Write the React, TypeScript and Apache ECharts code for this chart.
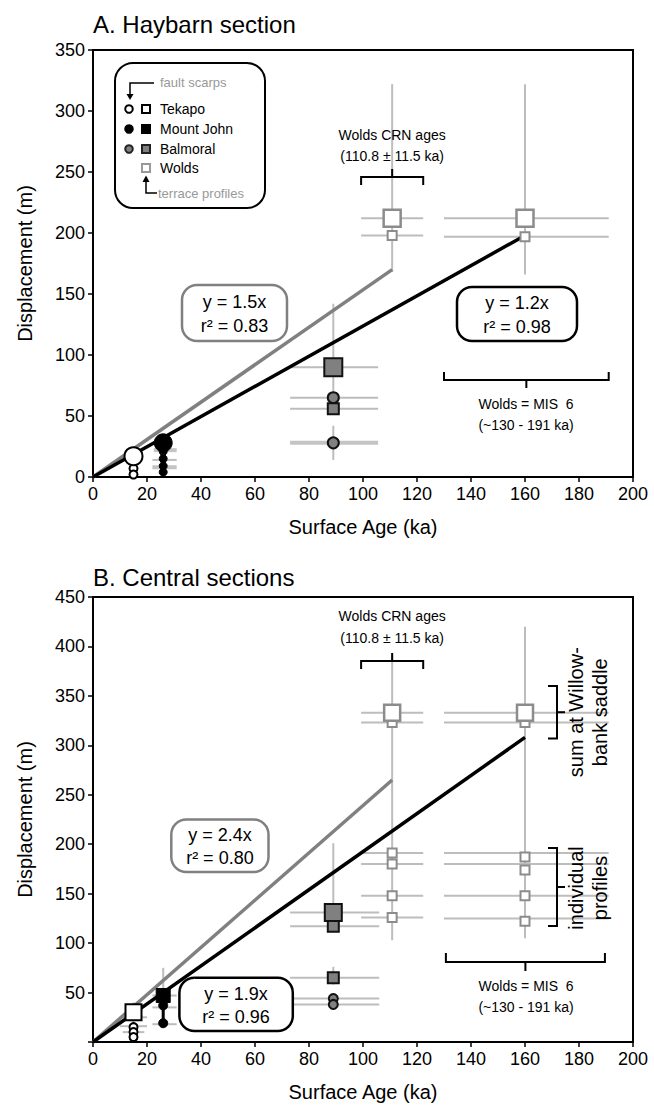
import React, { useEffect, useRef } from "react";
import * as echarts from "echarts";

const FONT = "Arial, 'Liberation Sans', Helvetica, sans-serif";

// ---------- Panel A data (Haybarn) ----------
const aTekapoBig = [[15, 17]];
const aTekapoSmall = [[15, 7], [15, 2]];
const aMtJohnBig = [[26, 28]];
const aMtJohnSmall = [[26, 21], [26, 15], [26, 9], [26, 4]];
const aBalmoralBig = [[89, 90]];
const aBalmoralSmall = [[89, 56]];
const aBalmoralCircles = [[89, 65], [89, 28]];
const aWoldsBig = [[110.8, 212], [160, 212]];
const aWoldsSmall = [[110.8, 198], [160, 197]];
const aFitGrey = [[0, 0], [110.8, 170]];
const aFitBlack = [[0, 0], [160, 198]];
const aBarsThin = [
  [110.8, 168, 110.8, 322], [160, 166, 160, 322],
  [99.3, 212, 122.3, 212], [99.3, 198, 122.3, 198],
  [130, 212, 191, 212], [130, 197, 191, 197],
  [89, 60, 89, 142], [89, 14, 89, 42],
  [73, 90, 105.6, 90], [73, 65, 105.6, 65], [73, 56, 105.6, 56],
  [22, 14, 31, 14],
];
const aBarsThick = [[73, 28, 105.6, 28], [22.5, 22, 31, 22], [22, 8, 31, 8]];
const aBarsBlack = [[26, 2, 26, 28]];

// ---------- Panel B data (Central) ----------
const bTekapoBig = [[15, 30]];
const bTekapoSmall = [[15, 15], [15, 10], [15, 5]];
const bMtJohnBig = [[26, 47]];
const bMtJohnSmall = [[26, 37], [26, 19]];
const bBalmoralBig = [[89, 131]];
const bBalmoralSmall = [[89, 117], [89, 65]];
const bBalmoralCircles = [[89, 44], [89, 38]];
const bWoldsBig = [[110.8, 333], [160, 333]];
const bWoldsSmall = [
  [110.8, 323], [160, 323],
  [110.8, 191], [110.8, 180], [110.8, 148], [110.8, 126],
  [160, 187], [160, 174], [160, 148], [160, 122],
];
const bFitGrey = [[0, 0], [110.8, 265]];
const bFitBlack = [[0, 0], [160, 308]];
const bBarsThin = [
  [110.8, 103, 110.8, 392], [160, 105, 160, 420],
  [99.3, 333, 122.3, 333], [99.3, 323, 122.3, 323],
  [99.3, 191, 122.3, 191], [99.3, 180, 122.3, 180], [99.3, 148, 122.3, 148], [99.3, 126, 122.3, 126],
  [130, 333, 191, 333], [130, 323, 191, 323],
  [130, 191, 191, 191], [130, 180, 191, 180], [130, 148, 191, 148], [130, 125, 191, 125],
  [89, 117, 89, 201], [89, 58, 89, 76],
  [73, 131, 106, 131], [73, 117, 106, 117], [73, 65, 106, 65], [73, 44, 106, 44], [73, 38, 106, 38],
  [26, 15, 26, 75], [22, 47, 31, 47], [22, 35, 31, 35], [22, 18, 31, 18],
  [15, 0, 15, 40], [11, 25, 20, 25], [10, 16, 20, 16], [11, 10, 19, 10],
];
const bBarsBlack = [[26, 19, 26, 47]];

const xTicks = { min: 0, max: 200, interval: 20 };
const yTicksA = { min: 0, max: 350, interval: 50 };
const yTicksB = { min: 0, max: 450, interval: 50 };

// layout
const GX = 93, GW = 540;
const GA_TOP = 50, GA_H = 427;
const GB_TOP = 597, GB_H = 445;
const ax = (x: number) => GX + (x / 200) * GW;
const ayA = (y: number) => GA_TOP + GA_H - (y / 350) * GA_H;
const ayB = (y: number) => GB_TOP + GB_H - (y / 450) * GB_H;

function bars(data: number[][], idx: number, color: string, width: number, z: number) {
  return {
    type: "custom",
    xAxisIndex: idx,
    yAxisIndex: idx,
    z,
    silent: true,
    encode: { x: [0, 2], y: [1, 3] },
    data,
    renderItem: (params: any, api: any) => {
      const p1 = api.coord([api.value(0), api.value(1)]);
      const p2 = api.coord([api.value(2), api.value(3)]);
      return {
        type: "line",
        shape: { x1: p1[0], y1: p1[1], x2: p2[0], y2: p2[1] },
        style: { stroke: color, lineWidth: width },
      };
    },
  };
}

function pts(data: number[][], idx: number, symbol: string, size: number, fill: string, stroke: string, bw: number, z: number) {
  return {
    type: "scatter",
    xAxisIndex: idx,
    yAxisIndex: idx,
    z,
    symbol,
    symbolSize: size,
    data,
    itemStyle: { color: fill, borderColor: stroke, borderWidth: bw, opacity: 1 },
  };
}

function fit(data: number[][], idx: number, color: string, width: number) {
  return {
    type: "line",
    xAxisIndex: idx,
    yAxisIndex: idx,
    z: 3,
    data,
    symbol: "none",
    lineStyle: { color, width },
  };
}

function xAxisCfg(idx: number) {
  return {
    type: "value",
    gridIndex: idx,
    ...xTicks,
    axisLine: { show: true, lineStyle: { color: "#000", width: 2 } },
    axisTick: { show: true, length: 5, lineStyle: { color: "#000", width: 1.5 } },
    axisLabel: { fontSize: 18, color: "#000", fontFamily: FONT, margin: 8 },
    splitLine: { show: false },
    name: "Surface Age (ka)",
    nameLocation: "middle",
    nameGap: 40,
    nameTextStyle: { fontSize: 20, color: "#000", fontFamily: FONT },
  };
}

function yAxisCfg(idx: number, ticks: any, hideZero: boolean) {
  return {
    type: "value",
    gridIndex: idx,
    ...ticks,
    axisLine: { show: true, lineStyle: { color: "#000", width: 2 } },
    axisTick: { show: true, length: 5, lineStyle: { color: "#000", width: 1.5 } },
    axisLabel: {
      fontSize: 18, color: "#000", fontFamily: FONT, margin: 8,
      formatter: (v: number) => (hideZero && v === 0 ? "" : String(v)),
    },
    splitLine: { show: false },
    name: "Displacement (m)",
    nameLocation: "middle",
    nameGap: 58,
    nameTextStyle: { fontSize: 20, color: "#000", fontFamily: FONT },
  };
}

function txt(x: number, y: number, text: string, size: number, opts: any = {}) {
  return {
    type: "text",
    x, y,
    rotation: opts.rotation || 0,
    style: {
      text,
      fill: opts.fill || "#000",
      font: `${size}px ${FONT}`,
      textAlign: opts.align || "center",
      textVerticalAlign: "middle",
    },
    z: 100,
  };
}

function bracketDown(x1: number, x2: number, y: number, leg: number, tickUp: boolean) {
  const cx = (x1 + x2) / 2;
  return [
    { type: "polyline", shape: { points: [[x1, y + (tickUp ? leg : -leg)], [x1, y], [x2, y], [x2, y + (tickUp ? leg : -leg)]] }, style: { stroke: "#000", lineWidth: 2, fill: null }, z: 100 },
    { type: "line", shape: { x1: cx, y1: y, x2: cx, y2: y + (tickUp ? -leg : leg) }, style: { stroke: "#000", lineWidth: 2 }, z: 100 },
  ];
}

function eqBox(x: number, y: number, w: number, h: number, stroke: string, l1: string, l2: string) {
  return [
    { type: "rect", shape: { x, y, width: w, height: h, r: 15 }, style: { fill: "#fff", stroke, lineWidth: 2.5 }, z: 90 },
    txt(x + w / 2, y + h * 0.3, l1, 18),
    txt(x + w / 2, y + h * 0.74, l2, 18),
  ];
}

function legend() {
  const els: any[] = [];
  els.push({ type: "rect", shape: { x: 115, y: 63, width: 150, height: 145, r: 18 }, style: { fill: "#fff", stroke: "#000", lineWidth: 2 }, z: 90 });
  els.push(txt(160, 82, "fault scarps", 13, { align: "left", fill: "#999" }));
  els.push({ type: "polyline", shape: { points: [[154, 83], [130, 83], [130, 95]] }, style: { stroke: "#000", lineWidth: 1.5, fill: null }, z: 100 });
  els.push({ type: "polygon", shape: { points: [[126.5, 94], [133.5, 94], [130, 100]] }, style: { fill: "#000" }, z: 100 });
  const rows = [
    { y: 109, name: "Tekapo", cf: "#fff", cs: "#000", sf: "#fff", ss: "#000" },
    { y: 129, name: "Mount John", cf: "#000", cs: "#000", sf: "#000", ss: "#000" },
    { y: 149, name: "Balmoral", cf: "#808080", cs: "#222", sf: "#808080", ss: "#222" },
    { y: 168, name: "Wolds", cf: null, cs: null, sf: "#fff", ss: "#999" },
  ];
  rows.forEach((r) => {
    if (r.cf) els.push({ type: "circle", shape: { cx: 129, cy: r.y, r: 3.8 }, style: { fill: r.cf, stroke: r.cs, lineWidth: 2 }, z: 100 });
    els.push({ type: "rect", shape: { x: 142, y: r.y - 4, width: 8, height: 8 }, style: { fill: r.sf, stroke: r.ss, lineWidth: 2 }, z: 100 });
    els.push(txt(160, r.y, r.name, 14, { align: "left" }));
  });
  els.push({ type: "polyline", shape: { points: [[157, 193], [146, 193], [146, 181]] }, style: { stroke: "#000", lineWidth: 1.5, fill: null }, z: 100 });
  els.push({ type: "polygon", shape: { points: [[142.5, 182], [149.5, 182], [146, 175.5]] }, style: { fill: "#000" }, z: 100 });
  els.push(txt(158, 193, "terrace profiles", 13, { align: "left", fill: "#999" }));
  return els;
}

export default function App() {
  const ref = useRef<HTMLDivElement>(null);
  useEffect(() => {
    document.body.style.margin = "0";
    const chart = echarts.init(ref.current!, null, { renderer: "svg" });
    const graphics: any[] = [
      txt(GX, 24, "A. Haybarn section", 24, { align: "left" }),
      txt(GX, 577, "B. Central sections", 24, { align: "left" }),
      ...legend(),
      // Panel A annotations
      txt(ax(110.8), 135, "Wolds CRN ages", 14),
      txt(ax(110.8), 156, "(110.8 \u00b1 11.5 ka)", 14),
      ...bracketDown(ax(99.3), ax(122.3), 177, 8, true),
      ...eqBox(182, 285, 105, 56, "#808080", "y = 1.5x", "r\u00b2 = 0.83"),
      ...eqBox(457, 287, 120, 54, "#000", "y = 1.2x", "r\u00b2 = 0.98"),
      ...bracketDown(ax(130), ax(191), 380, 8, false),
      txt(ax(160.4), 404, "Wolds = MIS  6", 14),
      txt(ax(160.4), 425, "(~130 - 191 ka)", 14),
      // Panel B annotations
      txt(ax(110.8), 616, "Wolds CRN ages", 14),
      txt(ax(110.8), 638, "(110.8 \u00b1 11.5 ka)", 14),
      ...bracketDown(ax(99.3), ax(122.3), 661, 8, true),
      ...eqBox(ax(29), ayB(225), ax(65) - ax(29), ayB(172) - ayB(225), "#808080", "y = 2.4x", "r\u00b2 = 0.80"),
      ...eqBox(ax(32), ayB(65), ax(74) - ax(32), ayB(11) - ayB(65), "#000", "y = 1.9x", "r\u00b2 = 0.96"),
      ...bracketDown(ax(130.7), ax(189.6), 962, 9, false),
      txt(ax(160.4), 986, "Wolds = MIS  6", 14),
      txt(ax(160.4), 1007, "(~130 - 191 ka)", 14),
      // right-hand brackets in B
      { type: "polyline", shape: { points: [[548, ayB(360)], [557, ayB(360)], [557, ayB(307)], [548, ayB(307)]] }, style: { stroke: "#000", lineWidth: 2, fill: null }, z: 100 },
      { type: "line", shape: { x1: 557, y1: ayB(333.5), x2: 565, y2: ayB(333.5) }, style: { stroke: "#000", lineWidth: 2 }, z: 100 },
      { type: "polyline", shape: { points: [[548, 848], [557, 848], [557, 926], [548, 926]] }, style: { stroke: "#000", lineWidth: 2, fill: null }, z: 100 },
      { type: "line", shape: { x1: 557, y1: 887, x2: 565, y2: 887 }, style: { stroke: "#000", lineWidth: 2 }, z: 100 },
      txt(576, ayB(333.5), "sum at Willow-", 20, { rotation: Math.PI / 2 }),
      txt(600, ayB(333.5), "bank saddle", 20, { rotation: Math.PI / 2 }),
      txt(576, 888, "individual", 20, { rotation: Math.PI / 2 }),
      txt(600, 888, "profiles", 20, { rotation: Math.PI / 2 }),
    ];

    chart.setOption({
      animation: false,
      grid: [
        { left: GX, top: GA_TOP, width: GW, height: GA_H, show: true, borderColor: "#000", borderWidth: 2, backgroundColor: "transparent" },
        { left: GX, top: GB_TOP, width: GW, height: GB_H, show: true, borderColor: "#000", borderWidth: 2, backgroundColor: "transparent" },
      ],
      xAxis: [xAxisCfg(0), xAxisCfg(1)],
      yAxis: [yAxisCfg(0, yTicksA, false), yAxisCfg(1, yTicksB, true)],
      series: [
        // Panel A
        bars(aBarsThin, 0, "#bdbdbd", 2, 1),
        bars(aBarsThick, 0, "#c4c4c4", 4, 1),
        fit(aFitGrey, 0, "#808080", 3.5),
        fit(aFitBlack, 0, "#000", 3.5),
        bars(aBarsBlack, 0, "#000", 5, 4),
        pts(aTekapoSmall, 0, "circle", 8, "#fff", "#000", 2, 5),
        pts(aTekapoBig, 0, "circle", 18, "#fff", "#000", 2, 6),
        pts(aMtJohnSmall, 0, "circle", 8, "#000", "#000", 1, 5),
        pts(aMtJohnBig, 0, "circle", 18, "#000", "#000", 1, 6),
        pts(aBalmoralCircles, 0, "circle", 11, "#808080", "#111", 2, 5),
        pts(aBalmoralSmall, 0, "rect", 11, "#808080", "#111", 2, 5),
        pts(aBalmoralBig, 0, "rect", 18, "#808080", "#111", 2, 5),
        pts(aWoldsSmall, 0, "rect", 9, "#fff", "#8c8c8c", 2, 5),
        pts(aWoldsBig, 0, "rect", 17, "#fff", "#8c8c8c", 2.5, 5),
        // Panel B
        bars(bBarsThin, 1, "#bdbdbd", 2, 1),
        fit(bFitGrey, 1, "#808080", 3.5),
        fit(bFitBlack, 1, "#000", 3.5),
        bars(bBarsBlack, 1, "#000", 3, 4),
        pts(bTekapoSmall, 1, "circle", 8, "#fff", "#000", 2, 5),
        pts(bTekapoBig, 1, "rect", 16, "#fff", "#000", 2, 6),
        pts(bMtJohnSmall, 1, "circle", 9, "#000", "#000", 1, 5),
        pts(bMtJohnBig, 1, "rect", 14, "#000", "#000", 1, 6),
        pts(bBalmoralCircles, 1, "circle", 9, "#808080", "#111", 2, 5),
        pts(bBalmoralSmall, 1, "rect", 11, "#808080", "#111", 2, 5),
        pts(bBalmoralBig, 1, "rect", 17, "#808080", "#111", 2, 5),
        pts(bWoldsSmall, 1, "rect", 9, "#fff", "#8c8c8c", 2, 5),
        pts(bWoldsBig, 1, "rect", 16, "#fff", "#8c8c8c", 2.5, 5),
      ],
      graphic: graphics,
    });
    return () => chart.dispose();
  }, []);
  return <div ref={ref} style={{ width: 654, height: 1106 }} />;
}
